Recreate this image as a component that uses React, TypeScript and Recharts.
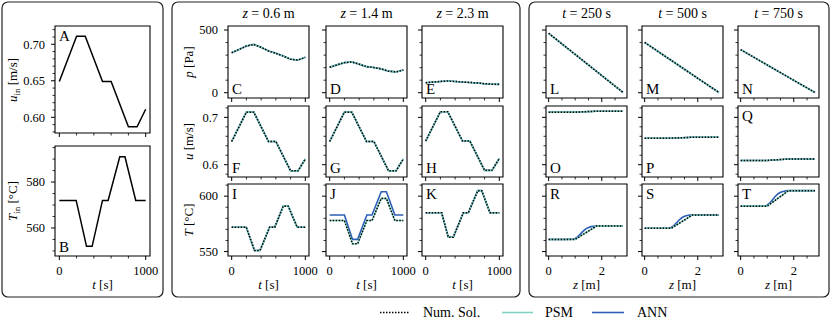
import React from 'react';
import { LineChart, Line, XAxis, YAxis, ReferenceArea, Label } from 'recharts';

const FONT = '"Liberation Serif", "DejaVu Serif", "Times New Roman", serif';
const PSM_COLOR = '#7fd4c1';
const ANN_COLOR = '#2c5fb8';

// ---------- inlet conditions (A, B)
const tInU = [0, 200, 300, 500, 600, 800, 900, 1000];
const uIn = [0.649, 0.711, 0.711, 0.649, 0.649, 0.587, 0.587, 0.611];
const tInT = [0, 195, 315, 380, 500, 565, 700, 760, 885, 1000];
const TIn = [572, 572, 552, 552, 572, 572, 591, 591, 572, 572];

// ---------- time series at z = 0.6, 1.4, 2.3 m
const tGrid = [0, 100, 200, 300, 400, 500, 600, 700, 800, 900, 1000];
const pZ06 = [319, 345, 372, 385, 362, 333, 314, 292, 267, 261, 282];
const pZ14 = [203, 222, 240, 245, 228, 208, 201, 190, 172, 166, 181];
const pZ23 = [80, 85, 90, 93, 90, 85, 82, 78, 72, 68, 67];

const tU = [0, 200, 300, 500, 600, 800, 900, 1000];
const uZ06 = [0.649, 0.711, 0.711, 0.649, 0.649, 0.587, 0.587, 0.612];
const uZ14 = [0.649, 0.711, 0.711, 0.649, 0.649, 0.587, 0.587, 0.612];
const uZ23 = [0.65, 0.712, 0.712, 0.65, 0.65, 0.588, 0.588, 0.613];

const tTz06 = [0, 198, 310, 385, 515, 585, 700, 768, 890, 1000];
const TZ06 = [572, 572, 551, 551, 572, 572, 591, 591, 572, 572];
const tTz14 = [0, 200, 310, 380, 505, 575, 700, 770, 885, 1000];
const TZ14num = [578, 578, 557, 557, 578, 578, 598, 598, 578, 578];
const TZ14ann = [583, 583, 561, 561, 583, 583, 604, 604, 583, 583];
const tTz23 = [0, 217, 307, 375, 511, 579, 707, 761, 873, 1000];
const TZ23 = [585, 585, 563, 563, 585, 585, 605, 605, 585, 585];

// ---------- spatial profiles at t = 250, 500, 750 s
const zP = [0, 0.7, 1.4, 2.1, 2.8];
const pT250 = [474, 356, 238, 120, 2];
const pT500 = [401, 301, 201, 101, 2];
const pT750 = [344, 258, 172, 87, 2];
const zU = [0, 1.0, 1.8, 2.8];
const uT250 = [0.711, 0.711, 0.713, 0.713];
const uT500 = [0.656, 0.656, 0.658, 0.658];
const uT750 = [0.609, 0.609, 0.612, 0.612];
const zT = [0, 0.5, 0.9, 1.0, 1.1, 1.2, 1.3, 1.4, 1.5, 1.6, 1.7, 1.8, 2.2, 2.8];
const TT250num = [561, 561, 561, 561, 562.5, 564, 565.5, 567, 568.5, 570, 571.5, 573, 573, 573];
const TT250ann = [561, 561, 561.2, 561.8, 563.5, 566, 568.5, 570.5, 571.8, 572.5, 572.9, 573, 573, 573];
const TT500num = [571, 571, 571, 571, 572.5, 574, 575.5, 577, 578.5, 580, 581.5, 583, 583, 583];
const TT500ann = [571, 571, 571.2, 571.8, 573.5, 576, 578.5, 580.5, 581.8, 582.5, 582.9, 583, 583, 583];
const TT750num = [591, 591, 591, 591, 592.75, 594.5, 596.25, 598, 599.75, 601.5, 603.25, 605, 605, 605];
const TT750ann = [591, 591, 591.2, 591.9, 593.9, 596.8, 599.7, 602, 603.5, 604.3, 604.8, 605, 605, 605];

// ---------- ticks
const tTicks = [0, 200, 400, 600, 800, 1000];
const tMajor = [0, 1000];
const tLabels = ['0', '1000'];
const zTicks = [0, 0.5, 1, 1.5, 2, 2.5];
const zMajor = [0, 2];
const zLabels = ['0', '2'];
const uInTicks = [0.58, 0.59, 0.6, 0.61, 0.62, 0.63, 0.64, 0.65, 0.66, 0.67, 0.68, 0.69, 0.7, 0.71, 0.72];
const uInMajor = [0.6, 0.65, 0.7];
const uInLabels = ['0.60', '0.65', '0.70'];
const TInTicks = [550, 555, 560, 565, 570, 575, 580, 585, 590, 595];
const TInMajor = [560, 580];
const TInLabels = ['560', '580'];
const pTicks = [0, 100, 200, 300, 400, 500];
const pMajor = [0, 500];
const pLabels = ['0', '500'];
const uTicks = [0.58, 0.6, 0.62, 0.64, 0.66, 0.68, 0.7, 0.72];
const uMajor = [0.6, 0.7];
const uLabels = ['0.6', '0.7'];
const TTicks = [550, 560, 570, 580, 590, 600, 610];
const TMajor = [550, 600];
const TLabels = ['550', '600'];

const zTitles = ['0.6', '1.4', '2.3'];
const tTitles = ['250', '500', '750'];

// ---------- domains
const tDomain = [-50, 1050];
const zDomain = [-0.1, 2.95];
const uInDomain = [0.5785, 0.725];
const TInDomain = [547.8, 595.7];
const pDomain = [-42, 532];
const uDomain = [0.574, 0.724];
const TDomain = [546, 611];

type Row = Record<string, number>;
const mk = (xs: number[], cols: Record<string, number[]>): Row[] =>
  xs.map((x, i) => {
    const r: Row = { x };
    Object.keys(cols).forEach((k) => {
      r[k] = cols[k][i];
    });
    return r;
  });

type S = { key: string; color: string; width: number; dash?: string };
const ANN: S = { key: 'ann', color: ANN_COLOR, width: 1.6 };
const PSM: S = { key: 'psm', color: PSM_COLOR, width: 1.6 };
const NUM: S = { key: 'num', color: '#000', width: 1.5, dash: '1.5 1.5' };
const INLET: S = { key: 'v', color: '#000', width: 1.5 };
const ALL = [ANN, PSM, NUM];

const ML = 44;
const MR = 18;
const MT = 4;
const MB = 26;
const TICK_FS = 12.5;

const isIn = (arr: number[], v: number) => arr.findIndex((m) => Math.abs(m - v) < 1e-9);

interface PanelProps {
  x: number;
  y: number;
  w: number;
  h: number;
  data: Row[];
  series: S[];
  xDomain: number[];
  xTicks: number[];
  xMajor: number[];
  xLabels?: string[];
  yDomain: number[];
  yTicks: number[];
  yMajor: number[];
  yLabels?: string[];
  letter: string;
  letterPos: 'insideTopLeft' | 'insideBottomLeft';
}

function Panel(p: PanelProps) {
  const xt = (props: any) => {
    const { x, y, payload } = props;
    const idx = isIn(p.xMajor, payload.value);
    const major = idx >= 0;
    return (
      <g>
        <line x1={x} y1={y} x2={x} y2={y + (major ? 4 : 2.5)} stroke="#000" strokeWidth={major ? 1 : 0.8} />
        {p.xLabels && major ? (
          <text x={x} y={y + 18.5} textAnchor="middle" fontFamily={FONT} fontSize={TICK_FS} fill="#000">
            {p.xLabels[idx]}
          </text>
        ) : null}
      </g>
    );
  };
  const yt = (props: any) => {
    const { x, y, payload } = props;
    const idx = isIn(p.yMajor, payload.value);
    const major = idx >= 0;
    return (
      <g>
        <line x1={x} y1={y} x2={x - (major ? 4 : 2.5)} y2={y} stroke="#000" strokeWidth={major ? 1 : 0.8} />
        {p.yLabels && major ? (
          <text x={x - 10} y={y} dy="0.34em" textAnchor="end" fontFamily={FONT} fontSize={TICK_FS} fill="#000">
            {p.yLabels[idx]}
          </text>
        ) : null}
      </g>
    );
  };
  return (
    <div style={{ position: 'absolute', left: p.x - ML, top: p.y - MT }}>
      <LineChart
        width={p.w + ML + MR}
        height={p.h + MT + MB}
        data={p.data}
        margin={{ top: MT, right: MR, bottom: 0, left: 0 }}
      >
        <XAxis
          dataKey="x"
          type="number"
          domain={p.xDomain}
          allowDataOverflow
          ticks={p.xTicks}
          interval={0}
          height={MB}
          tickSize={0}
          tickMargin={0}
          tickLine={false}
          axisLine={false}
          tick={xt}
        />
        <YAxis
          type="number"
          domain={p.yDomain}
          allowDataOverflow
          ticks={p.yTicks}
          interval={0}
          width={ML}
          tickSize={0}
          tickMargin={0}
          tickLine={false}
          axisLine={false}
          tick={yt}
        />
        {p.series.map((s) => (
          <Line
            key={s.key}
            type="linear"
            dataKey={s.key}
            stroke={s.color}
            strokeWidth={s.width}
            strokeDasharray={s.dash}
            dot={false}
            activeDot={false}
            isAnimationActive={false}
          />
        ))}
        <ReferenceArea
          x1={p.xDomain[0]}
          x2={p.xDomain[1]}
          y1={p.yDomain[0]}
          y2={p.yDomain[1]}
          fill="none"
          fillOpacity={0}
          stroke="#000"
          strokeWidth={1.1}
          ifOverflow="visible"
        >
          <Label value={p.letter} position={p.letterPos} offset={4} fontSize={15} fontFamily={FONT} fill="#000" />
        </ReferenceArea>
      </LineChart>
    </div>
  );
}

// layout of plot areas
const LEFT_X = 55;
const LEFT_W = 95;
const MID_X = [228, 326, 422];
const RIGHT_X = [546, 642, 738];
const PW = 81;
const ROW_Y = [26, 106, 184];
const ROW_H = [72, 71, 72];

export default function App() {
  const timeP = [pZ06, pZ14, pZ23];
  const timeU = [uZ06, uZ14, uZ23];
  const timeT = [
    { t: tTz06, num: TZ06, ann: TZ06 },
    { t: tTz14, num: TZ14num, ann: TZ14ann },
    { t: tTz23, num: TZ23, ann: TZ23 },
  ];
  const spP = [pT250, pT500, pT750];
  const spU = [uT250, uT500, uT750];
  const spT = [
    { num: TT250num, ann: TT250ann },
    { num: TT500num, ann: TT500ann },
    { num: TT750num, ann: TT750ann },
  ];
  const lettersMid = [['C', 'F', 'I'], ['D', 'G', 'J'], ['E', 'H', 'K']];
  const lettersRight = [['L', 'O', 'R'], ['M', 'P', 'S'], ['N', 'Q', 'T']];
  const posMid: ('insideTopLeft' | 'insideBottomLeft')[] = ['insideBottomLeft', 'insideBottomLeft', 'insideTopLeft'];
  const posRight: ('insideTopLeft' | 'insideBottomLeft')[][] = [
    ['insideBottomLeft', 'insideBottomLeft', 'insideTopLeft'],
    ['insideBottomLeft', 'insideBottomLeft', 'insideTopLeft'],
    ['insideBottomLeft', 'insideTopLeft', 'insideTopLeft'],
  ];

  const txt = { fontFamily: FONT, fill: '#000' } as const;
  const titleY = 17.5;
  const xTitleY = 289;
  const legY = 312.5;
  const legTextY = 317;

  return (
    <div style={{ position: 'absolute', left: 0, top: 0, width: 831, height: 320, background: '#fff' }}>
      <svg width={831} height={320} style={{ position: 'absolute', left: 0, top: 0 }}>
        <rect x={2} y={2} width={161} height={295} rx={6} fill="none" stroke="#222" strokeWidth={1.2} />
        <rect x={172} y={2} width={348} height={295} rx={6} fill="none" stroke="#222" strokeWidth={1.2} />
        <rect x={529} y={2} width={300} height={295} rx={6} fill="none" stroke="#222" strokeWidth={1.2} />
        {MID_X.map((x, i) => (
          <text key={'zt' + i} x={x + PW / 2} y={titleY} textAnchor="middle" fontSize={14} {...txt}>
            <tspan fontStyle="italic">z</tspan> = {zTitles[i]} m
          </text>
        ))}
        {RIGHT_X.map((x, i) => (
          <text key={'tt' + i} x={x + PW / 2} y={titleY} textAnchor="middle" fontSize={14} {...txt}>
            <tspan fontStyle="italic">t</tspan> = {tTitles[i]} s
          </text>
        ))}
        <text x={LEFT_X + LEFT_W / 2} y={xTitleY} textAnchor="middle" fontSize={13} {...txt}>
          <tspan fontStyle="italic">t</tspan> [s]
        </text>
        {MID_X.map((x, i) => (
          <text key={'xl' + i} x={x + PW / 2} y={xTitleY} textAnchor="middle" fontSize={13} {...txt}>
            <tspan fontStyle="italic">t</tspan> [s]
          </text>
        ))}
        {RIGHT_X.map((x, i) => (
          <text key={'zl' + i} x={x + PW / 2} y={xTitleY} textAnchor="middle" fontSize={13} {...txt}>
            <tspan fontStyle="italic">z</tspan> [m]
          </text>
        ))}
        <text transform="translate(17,80) rotate(-90)" textAnchor="middle" fontSize={13} {...txt}>
          <tspan fontStyle="italic">u</tspan>
          <tspan fontSize={9} dy={2.5}>in</tspan>
          <tspan dy={-2.5}> [m/s]</tspan>
        </text>
        <text transform="translate(17,201) rotate(-90)" textAnchor="middle" fontSize={13} {...txt}>
          <tspan fontStyle="italic">T</tspan>
          <tspan fontSize={9} dy={2.5}>in</tspan>
          <tspan dy={-2.5}> [°C]</tspan>
        </text>
        <text transform="translate(193,62) rotate(-90)" textAnchor="middle" fontSize={13} {...txt}>
          <tspan fontStyle="italic">p</tspan> [Pa]
        </text>
        <text transform="translate(193,141.5) rotate(-90)" textAnchor="middle" fontSize={13} {...txt}>
          <tspan fontStyle="italic">u</tspan> [m/s]
        </text>
        <text transform="translate(193,220) rotate(-90)" textAnchor="middle" fontSize={13} {...txt}>
          <tspan fontStyle="italic">T</tspan> [°C]
        </text>
        {/* legend */}
        <line x1={380} y1={legY} x2={410} y2={legY} stroke="#000" strokeWidth={1.5} strokeDasharray="1.5 1.5" />
        <text x={423} y={legTextY} fontSize={14} {...txt}>Num. Sol.</text>
        <line x1={502} y1={legY} x2={533} y2={legY} stroke={PSM_COLOR} strokeWidth={1.6} />
        <text x={545} y={legTextY} fontSize={14} {...txt}>PSM</text>
        <line x1={592} y1={legY} x2={624} y2={legY} stroke={ANN_COLOR} strokeWidth={1.6} />
        <text x={637} y={legTextY} fontSize={14} {...txt}>ANN</text>
      </svg>

      <Panel
        x={LEFT_X} y={26} w={LEFT_W} h={107}
        data={mk(tInU, { v: uIn })} series={[INLET]}
        xDomain={tDomain} xTicks={tTicks} xMajor={tMajor}
        yDomain={uInDomain} yTicks={uInTicks} yMajor={uInMajor} yLabels={uInLabels}
        letter="A" letterPos="insideTopLeft"
      />
      <Panel
        x={LEFT_X} y={146} w={LEFT_W} h={110}
        data={mk(tInT, { v: TIn })} series={[INLET]}
        xDomain={tDomain} xTicks={tTicks} xMajor={tMajor} xLabels={tLabels}
        yDomain={TInDomain} yTicks={TInTicks} yMajor={TInMajor} yLabels={TInLabels}
        letter="B" letterPos="insideBottomLeft"
      />

      {MID_X.map((x, c) => (
        <React.Fragment key={'mid' + c}>
          <Panel
            x={x} y={ROW_Y[0]} w={PW} h={ROW_H[0]}
            data={mk(tGrid, { ann: timeP[c], psm: timeP[c], num: timeP[c] })} series={ALL}
            xDomain={tDomain} xTicks={tTicks} xMajor={tMajor}
            yDomain={pDomain} yTicks={pTicks} yMajor={pMajor} yLabels={c === 0 ? pLabels : undefined}
            letter={lettersMid[c][0]} letterPos={posMid[0]}
          />
          <Panel
            x={x} y={ROW_Y[1]} w={PW} h={ROW_H[1]}
            data={mk(tU, { ann: timeU[c], psm: timeU[c], num: timeU[c] })} series={ALL}
            xDomain={tDomain} xTicks={tTicks} xMajor={tMajor}
            yDomain={uDomain} yTicks={uTicks} yMajor={uMajor} yLabels={c === 0 ? uLabels : undefined}
            letter={lettersMid[c][1]} letterPos={posMid[1]}
          />
          <Panel
            x={x} y={ROW_Y[2]} w={PW} h={ROW_H[2]}
            data={mk(timeT[c].t, { ann: timeT[c].ann, psm: timeT[c].num, num: timeT[c].num })} series={ALL}
            xDomain={tDomain} xTicks={tTicks} xMajor={tMajor} xLabels={tLabels}
            yDomain={TDomain} yTicks={TTicks} yMajor={TMajor} yLabels={c === 0 ? TLabels : undefined}
            letter={lettersMid[c][2]} letterPos={posMid[2]}
          />
        </React.Fragment>
      ))}

      {RIGHT_X.map((x, c) => (
        <React.Fragment key={'right' + c}>
          <Panel
            x={x} y={ROW_Y[0]} w={PW} h={ROW_H[0]}
            data={mk(zP, { ann: spP[c], psm: spP[c], num: spP[c] })} series={ALL}
            xDomain={zDomain} xTicks={zTicks} xMajor={zMajor}
            yDomain={pDomain} yTicks={pTicks} yMajor={pMajor}
            letter={lettersRight[c][0]} letterPos={posRight[c][0]}
          />
          <Panel
            x={x} y={ROW_Y[1]} w={PW} h={ROW_H[1]}
            data={mk(zU, { ann: spU[c], psm: spU[c], num: spU[c] })} series={ALL}
            xDomain={zDomain} xTicks={zTicks} xMajor={zMajor}
            yDomain={uDomain} yTicks={uTicks} yMajor={uMajor}
            letter={lettersRight[c][1]} letterPos={posRight[c][1]}
          />
          <Panel
            x={x} y={ROW_Y[2]} w={PW} h={ROW_H[2]}
            data={mk(zT, { ann: spT[c].ann, psm: spT[c].num, num: spT[c].num })} series={ALL}
            xDomain={zDomain} xTicks={zTicks} xMajor={zMajor} xLabels={zLabels}
            yDomain={TDomain} yTicks={TTicks} yMajor={TMajor}
            letter={lettersRight[c][2]} letterPos={posRight[c][2]}
          />
        </React.Fragment>
      ))}
    </div>
  );
}
